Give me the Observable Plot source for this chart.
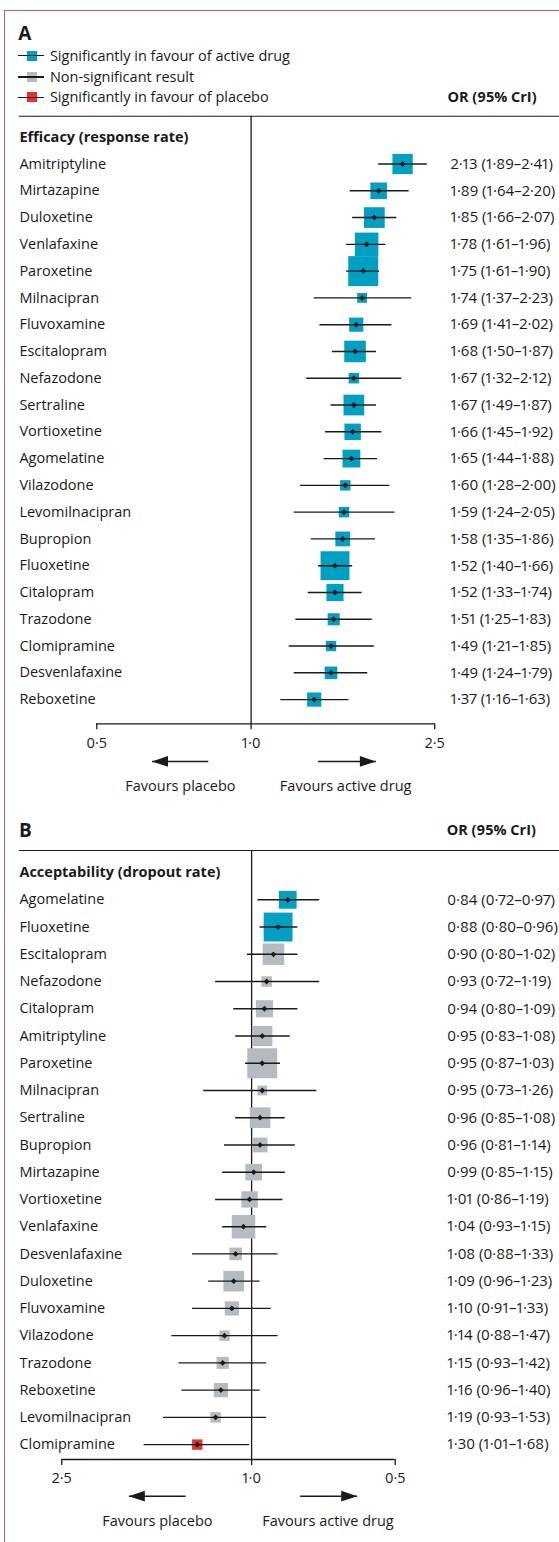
<!DOCTYPE html>
<html><head><meta charset="utf-8">
<script src="https://cdn.jsdelivr.net/npm/d3@7"></script>
<script src="https://cdn.jsdelivr.net/npm/@observablehq/plot@0.6"></script>
<style>
body{margin:0;background:#fff}
#page{position:relative;width:559px;height:1542px;overflow:hidden;background:#fff;font-family:"Open Sans",sans-serif;color:#1a1a1a;font-variant-numeric:proportional-nums}
.lbl{position:absolute;white-space:nowrap;height:30px;line-height:30px;font-size:14.5px}
.plot{position:absolute;left:0}
.plot text{font-variant-numeric:proportional-nums}
</style></head><body><div id="page"></div>
<script>
// ---------- data ----------
const legendLabels = ["Significantly in favour of active drug", "Non-significant result", "Significantly in favour of placebo"];
const sigKeys = ["active", "ns", "placebo"];

// Panel A: efficacy (response rate)
const drugsA = ["Amitriptyline","Mirtazapine","Duloxetine","Venlafaxine","Paroxetine","Milnacipran","Fluvoxamine","Escitalopram","Nefazodone","Sertraline","Vortioxetine","Agomelatine","Vilazodone","Levomilnacipran","Bupropion","Fluoxetine","Citalopram","Trazodone","Clomipramine","Desvenlafaxine","Reboxetine"];
const orA = [2.13,1.89,1.85,1.78,1.75,1.74,1.69,1.68,1.67,1.67,1.66,1.65,1.60,1.59,1.58,1.52,1.52,1.51,1.49,1.49,1.37];
const loA = [1.89,1.64,1.66,1.61,1.61,1.37,1.41,1.50,1.32,1.49,1.45,1.44,1.28,1.24,1.35,1.40,1.33,1.25,1.21,1.24,1.16];
const hiA = [2.41,2.20,2.07,1.96,1.90,2.23,2.02,1.87,2.12,1.87,1.92,1.88,2.00,2.05,1.86,1.66,1.74,1.83,1.85,1.79,1.63];
const sigA = drugsA.map(() => "active");

// Panel B: acceptability (dropout rate)
const drugsB = ["Agomelatine","Fluoxetine","Escitalopram","Nefazodone","Citalopram","Amitriptyline","Paroxetine","Milnacipran","Sertraline","Bupropion","Mirtazapine","Vortioxetine","Venlafaxine","Desvenlafaxine","Duloxetine","Fluvoxamine","Vilazodone","Trazodone","Reboxetine","Levomilnacipran","Clomipramine"];
const orB = [0.84,0.88,0.90,0.93,0.94,0.95,0.95,0.95,0.96,0.96,0.99,1.01,1.04,1.08,1.09,1.10,1.14,1.15,1.16,1.19,1.30];
const loB = [0.72,0.80,0.80,0.72,0.80,0.83,0.87,0.73,0.85,0.81,0.85,0.86,0.93,0.88,0.96,0.91,0.88,0.93,0.96,0.93,1.01];
const hiB = [0.97,0.96,1.02,1.19,1.09,1.08,1.03,1.26,1.08,1.14,1.15,1.19,1.15,1.33,1.23,1.33,1.47,1.42,1.40,1.53,1.68];
const sigB = ["active","active","ns","ns","ns","ns","ns","ns","ns","ns","ns","ns","ns","ns","ns","ns","ns","ns","ns","ns","placebo"];

// relative weight of each drug (square size)
const weightDrugs = ["Amitriptyline","Mirtazapine","Duloxetine","Venlafaxine","Paroxetine","Milnacipran","Fluvoxamine","Escitalopram","Nefazodone","Sertraline","Vortioxetine","Agomelatine","Vilazodone","Levomilnacipran","Bupropion","Fluoxetine","Citalopram","Trazodone","Clomipramine","Desvenlafaxine","Reboxetine"];
const weights = [20.3,16.6,20.7,23.5,30,9.8,14.2,21.6,10.5,20.7,16.4,17.8,10.4,10.5,14.8,28.9,17.1,12.1,10.4,12.6,14.2];

const ticksA = [0.5, 1, 2.5];
const ticksB = [2.5, 1, 0.5];
const favourLabels = ["Favours placebo", "Favours active drug"];

// ---------- styles ----------
const ink = "#1a1a1a";
const sigColors = ["#00a0c2", "#b4bcc1", "#e8302a"];
const frameColor = "#c9587a";
const FONT = "'Open Sans', sans-serif";
const FS = 14.5;
const FS_NUM = 15;

const f2 = v => v.toFixed(2).replace(".", "·");
const f1 = v => v.toFixed(1).replace(".", "·");
const weightOf = d => weights[weightDrugs.indexOf(d)];

const squareSym = {draw(ctx, size) { const s = Math.sqrt(size / Math.PI); ctx.moveTo(-s/2, -s/2); ctx.lineTo(s/2, -s/2); ctx.lineTo(s/2, s/2); ctx.lineTo(-s/2, s/2); ctx.closePath(); }};
const diamondSym = {draw(ctx, size) { const r = Math.sqrt(size / Math.PI); ctx.moveTo(0, -r); ctx.lineTo(r, 0); ctx.lineTo(0, r); ctx.lineTo(-r, 0); ctx.closePath(); }};
const headRight = {draw(ctx, size) { const r = Math.sqrt(size / Math.PI); ctx.moveTo(0, 0); ctx.lineTo(-2*r, -0.67*r); ctx.lineTo(-2*r, 0.67*r); ctx.closePath(); }};
const headLeft = {draw(ctx, size) { const r = Math.sqrt(size / Math.PI); ctx.moveTo(0, 0); ctx.lineTo(2*r, -0.67*r); ctx.lineTo(2*r, 0.67*r); ctx.closePath(); }};

function panel(cfg) {
  const rows = cfg.drugs.map((d, i) => ({drug: d, i, or: cfg.or[i], lo: cfg.lo[i], hi: cfg.hi[i], sig: cfg.sig[i], w: weightOf(d)}));
  const ar = cfg.arrows;
  const arrows = [
    {from: ar.left[0], to: ar.left[1], tx: ar.text[0], label: favourLabels[0]},
    {from: ar.right[0], to: ar.right[1], tx: ar.text[1], label: favourLabels[1]}
  ];
  const yMax = cfg.yDomain[1];
  return Plot.plot({
    width: 559, height: cfg.height,
    marginTop: cfg.marginTop, marginBottom: cfg.marginBottom, marginLeft: 18.9, marginRight: 0,
    style: {background: "transparent", fontFamily: FONT, fontSize: FS + "px", color: ink, overflow: "visible"},
    x: {type: "log", domain: cfg.xDomain, range: cfg.xRange},
    y: {domain: cfg.yDomain, reverse: true, axis: null},
    r: {type: "linear", domain: [0, 30], range: [0, 30]},
    color: {domain: sigKeys, range: sigColors},
    marks: [
      Plot.frame({anchor: "top", stroke: ink, strokeWidth: 1.1}),
      Plot.ruleX([1], {stroke: ink, strokeWidth: 1.3}),
      Plot.ruleY([yMax], {x1: cfg.ticks[0], x2: cfg.ticks[2], stroke: ink, strokeWidth: 1.3}),
      Plot.axisX({ticks: cfg.ticks, tickFormat: f1, tickSize: 6, tickPadding: cfg.tickPadding, fontSize: FS, fontFamily: FONT, stroke: ink, strokeWidth: 1.3, fill: ink, label: null}),
      Plot.text([cfg.section], {y: () => -1, text: d => d, frameAnchor: "left", textAnchor: "start", fontWeight: "bold", fontSize: FS, fontFamily: FONT, fill: ink}),
      Plot.dot(rows, {x: "or", y: "i", r: "w", fill: "sig", symbol: squareSym}),
      Plot.ruleY(rows, {y: "i", x1: "lo", x2: "hi", stroke: ink, strokeWidth: 1.4}),
      Plot.dot(rows, {x: "or", y: "i", r: 2.9, fill: ink, symbol: diamondSym}),
      Plot.text(rows, {y: "i", text: "drug", frameAnchor: "left", textAnchor: "start", fontSize: FS, fontFamily: FONT, fill: ink}),
      Plot.text(rows, {y: "i", text: d => `${f2(d.or)} (${f2(d.lo)}–${f2(d.hi)})`, frameAnchor: "left", textAnchor: "start", dx: cfg.orDx, fontSize: FS_NUM, fontFamily: FONT, fill: ink}),
      Plot.link(arrows, {x1: "from", x2: "to", y1: () => ar.row, y2: () => ar.row, stroke: ink, strokeWidth: 1.6}),
      Plot.dot(arrows.slice(0, 1), {x: "to", y: () => ar.row, r: 8, fill: ink, symbol: headLeft}),
      Plot.dot(arrows.slice(1), {x: "to", y: () => ar.row, r: 8, fill: ink, symbol: headRight}),
      Plot.text(arrows, {x: "tx", y: () => ar.textRow, text: "label", fontSize: FS, fontFamily: FONT, fill: ink})
    ]
  });
}

const page = document.getElementById("page");

const plotA = panel({
  drugs: drugsA, or: orA, lo: loA, hi: hiA, sig: sigA,
  section: "Efficacy (response rate)",
  height: 800, marginTop: 115.7, marginBottom: 76.7,
  xDomain: ticksA, xRange: [96.3, 250.6, 434.2], ticks: ticksA, tickPadding: 8,
  yDomain: [-1.785, 20.904], orDx: 431,
  arrows: {left: [0.825, 0.6407], right: [1.397, 1.864], text: [0.728, 1.603], row: 22.31, textRow: 23.23}
});
plotA.classList.add("plot"); plotA.style.top = "0px";
page.appendChild(plotA);

const plotB = panel({
  drugs: drugsB, or: orB, lo: loB, hi: hiB, sig: sigB,
  section: "Acceptability (dropout rate)",
  height: 742, marginTop: 50, marginBottom: 83,
  xDomain: [ticksB[0], ticksB[2]], xRange: [61.3, 394.7], ticks: ticksB, tickPadding: 7,
  yDomain: [-1.81, 20.547], orDx: 427.8,
  arrows: {left: [1.375, 1.809], right: [0.791, 0.6007], text: [1.576, 0.6917], row: 21.894, textRow: 22.81}
});
plotB.classList.add("plot"); plotB.style.top = "800px";
page.appendChild(plotB);

// ---------- header texts and legend (HTML) ----------
function label(text, left, cy, opts = {}) {
  const el = document.createElement("div");
  el.className = "lbl";
  el.textContent = text;
  el.style.left = left + "px";
  el.style.top = (cy - 15) + "px";
  if (opts.bold) el.style.fontWeight = "bold";
  if (opts.size) el.style.fontSize = opts.size + "px";
  page.appendChild(el);
}
function box(left, top, w, h, color) {
  const el = document.createElement("div");
  el.style.cssText = `position:absolute;left:${left}px;top:${top}px;width:${w}px;height:${h}px;background:${color}`;
  page.appendChild(el);
}
label("A", 18.3, 32.5, {bold: true, size: 19});
const legendY = [55.5, 77, 97.3];
legendLabels.forEach((t, k) => {
  box(26.7, legendY[k] - 5, 10, 10, sigColors[k]);
  box(18.3, legendY[k] - 0.7, 26, 1.4, ink);
  label(t, 49.9, legendY[k]);
});
label("OR (95% CrI)", 447.4, 97.3, {bold: true});
label("B", 18.9, 830, {bold: true, size: 19});
label("OR (95% CrI)", 446.7, 830, {bold: true});

const frame = document.createElement("div");
frame.style.cssText = `position:absolute;left:3.5px;top:9.5px;width:700px;height:1700px;border-top:1.2px solid ${frameColor};border-left:1.2px solid ${frameColor}`;
page.appendChild(frame);
</script></body></html>
